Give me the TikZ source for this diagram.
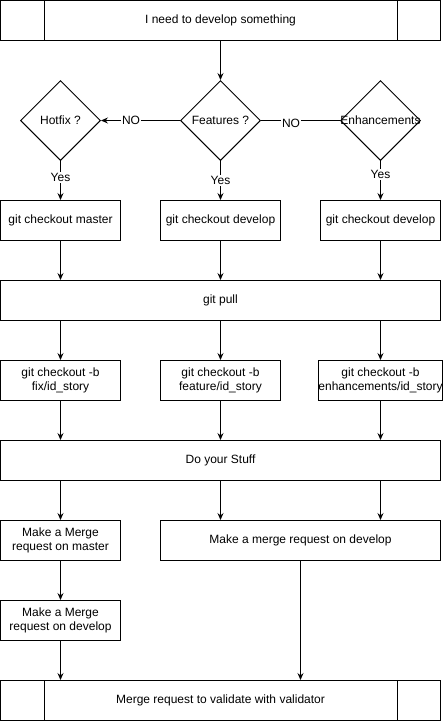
\documentclass[tikz,border=0pt]{standalone}
\usepackage{fontspec}
\setmainfont{Liberation Sans}
\usetikzlibrary{arrows.meta,shapes.geometric}

\begin{document}
\begin{tikzpicture}[x=1pt, y=-1pt, line width=1pt,
    font=\fontsize{12}{14}\selectfont,
    >={Stealth[length=7pt,width=6pt,inset=2.5pt]},
    box/.style={draw, rectangle, minimum width=120pt, minimum height=40pt, inner sep=0pt, align=center},
    banda/.style={box, minimum width=440pt},
    decisione/.style={draw, diamond, minimum width=80pt, minimum height=80pt, inner sep=0pt},
    etich/.style={fill=white, inner sep=1pt}]

    \useasboundingbox (0,0) rectangle (443,721);

    % Comando per le due righe verticali dentro le bande
    \def\divisori#1{%
        \draw ([xshift=44pt]#1.north west) -- ([xshift=44pt]#1.south west);%
        \draw ([xshift=-44pt]#1.north east) -- ([xshift=-44pt]#1.south east);%
    }

    % -- Inizio --
    \node[banda] (start) at (220.5,20.5) {I need to develop something};
    \divisori{start}

    % -- Decisioni --
    \node[decisione, label=center:{Hotfix ?}] (hotfix) at (60.5,120.5) {};
    \node[decisione, label=center:{Features ?}] (features) at (220.5,120.5) {};
    \node[decisione, label=center:{Enhancements}] (enh) at (380.5,120.5) {};

    \draw[->] (start) -- (features);
    \draw[->] (features) -- (hotfix) node[etich, pos=0.62] {NO};
    \draw (features) -- (enh) node[etich, pos=0.38, yshift=-2.5pt] {NO};

    % -- Checkout --
    \node[box] (coMaster) at (60.5,220.5) {git checkout master};
    \node[box] (coDevF) at (220.5,220.5) {git checkout develop};
    \node[box] (coDevE) at (380.5,220.5) {git checkout develop};

    \draw[->] (hotfix) -- (coMaster) node[etich, pos=0.42] {Yes};
    \draw[->] (features) -- (coDevF) node[etich, pos=0.5] {Yes};
    \draw[->] (enh) -- (coDevE) node[etich, pos=0.35] {Yes};

    % -- Pull --
    \node[banda] (pull) at (220.5,300.5) {git pull};
    \draw[->] (coMaster) -- (coMaster |- pull.north);
    \draw[->] (coDevF) -- (coDevF |- pull.north);
    \draw[->] (coDevE) -- (coDevE |- pull.north);

    % -- Branch --
    \node[box] (brFix) at (60.5,380.5) {git checkout -b\\fix/id\_story};
    \node[box] (brFeat) at (220.5,380.5) {git checkout -b\\feature/id\_story};
    \node[box] (brEnh) at (380.5,380.5) {git checkout -b\\enhancements/id\_story};
    \draw[->] (brFix |- pull.south) -- (brFix);
    \draw[->] (brFeat |- pull.south) -- (brFeat);
    \draw[->] (brEnh |- pull.south) -- (brEnh);

    % -- Lavoro --
    \node[banda] (stuff) at (220.5,460.5) {Do your Stuff};
    \draw[->] (brFix) -- (brFix |- stuff.north);
    \draw[->] (brFeat) -- (brFeat |- stuff.north);
    \draw[->] (brEnh) -- (brEnh |- stuff.north);

    % -- Merge request --
    \node[box] (mrMaster) at (60.5,540.5) {Make a Merge\\request on master};
    \node[box, minimum width=280pt] (mrDev) at (300.5,540.5) {Make a merge request on develop};
    \node[box] (mrDevFix) at (60.5,620.5) {Make a Merge\\request on develop};

    \draw[->] (mrMaster |- stuff.south) -- (mrMaster);
    \draw[->] (brFeat |- stuff.south) -- (brFeat |- mrDev.north);
    \draw[->] (brEnh |- stuff.south) -- (brEnh |- mrDev.north);
    \draw[->] (mrMaster) -- (mrDevFix);

    % -- Fine --
    \node[banda] (fine) at (220.5,700.5) {Merge request to validate with validator};
    \divisori{fine}

    \draw[->] (mrDevFix) -- (mrDevFix |- fine.north);
    \draw[->] (mrDev) -- (mrDev |- fine.north);
\end{tikzpicture}
\end{document}
